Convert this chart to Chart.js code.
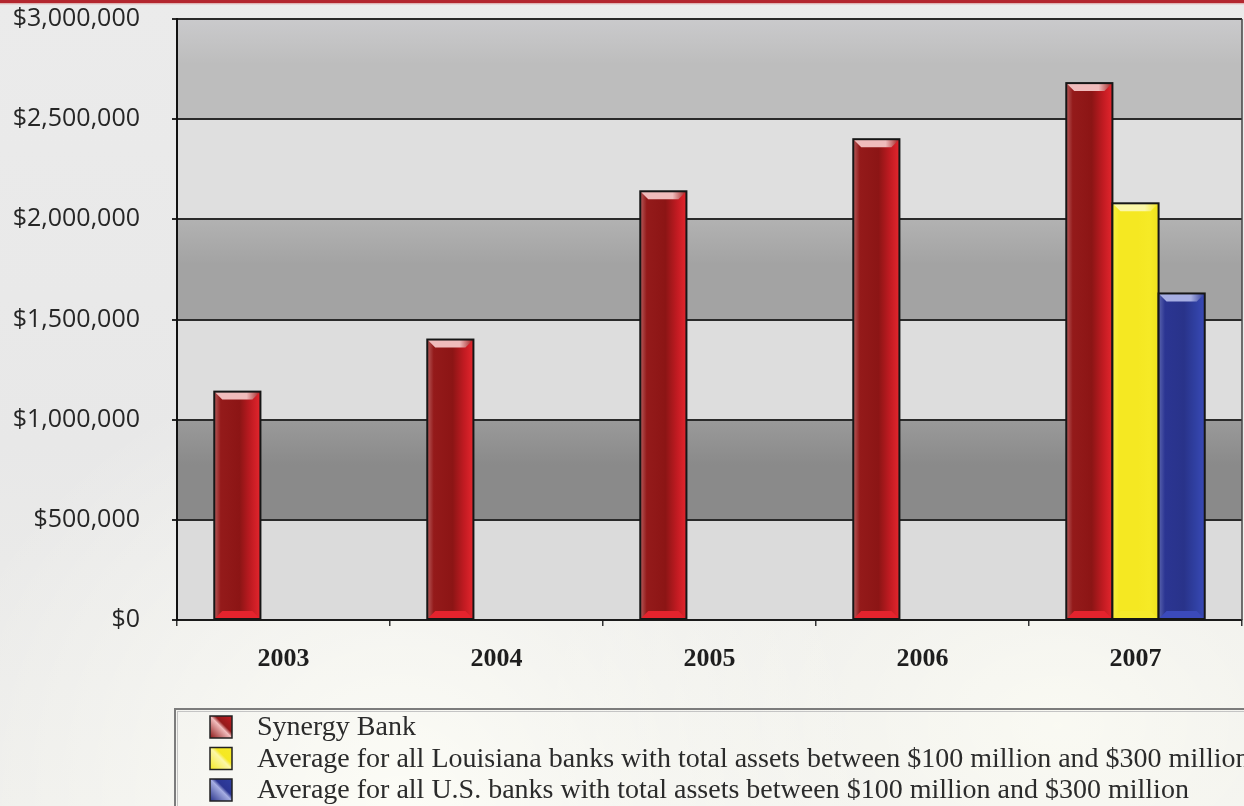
<!DOCTYPE html>
<html lang="en">
<head>
  <meta charset="UTF-8">
  <title>Synergy Bank – Total Assets</title>
  <script src="https://cdn.jsdelivr.net/npm/chart.js"></script>
  <style>
    html, body { margin: 0; padding: 0; }
    body {
      width: 1244px;
      height: 806px;
      overflow: hidden;
      background:
        linear-gradient(#b3262e 0, #b3262e 3px, #d9a0a0 3px, transparent 5px),
        radial-gradient(ellipse at 32% 100%, rgba(255,255,248,.85), rgba(255,255,248,0) 40%),
        radial-gradient(ellipse at 85% 90%, rgba(255,255,246,.7), rgba(255,255,246,0) 35%),
        linear-gradient(180deg, #ebebeb 0%, #e8e8e8 55%, #eeeeeb 100%);
    }
    .chart-box { position: absolute; left: 0; top: 0; width: 1244px; height: 806px; }
  </style>
</head>
<body>

<div class="chart-box">
  <canvas id="assets" aria-label="Bar chart: Synergy Bank total assets 2003-2007"></canvas>
</div>

<script>
  // ---- data ----
  const years = ["2003", "2004", "2005", "2006", "2007"];
  const synergy = [1140000, 1400000, 2140000, 2400000, 2680000];
  const louisianaAvg = [null, null, null, null, 2080000];
  const usAvg = [null, null, null, null, 1630000];
  const seriesNames = [
    "Synergy Bank",
    "Average for all Louisiana banks with total assets between $100 million and $300 million",
    "Average for all U.S. banks with total assets between $100 million and $300 million"
  ];
  const yTicks = [0, 500000, 1000000, 1500000, 2000000, 2500000, 3000000];

  // ---- look ----
  const barShades = [
    { side: ["#b65a5a", "#941a1a", "#8c1515", "#c21b22", "#e3262d"], top: "#f0bcbc", bottom: "#e4232d", flat: "#a01c1c" },
    { side: ["#f8ee48", "#f5e822", "#f5e822", "#f6ea26", "#efe11e"], top: "#fbf7a8", bottom: "#f6ea2a", flat: "#f5e822" },
    { side: ["#5a64ae", "#2b3592", "#29338a", "#3040a2", "#3949b6"], top: "#a6aee2", bottom: "#3b4abb", flat: "#2e3a98" }
  ];
  const darkBands = [["#9a9a9a", "#8a8a8a"], ["#b2b2b2", "#a3a3a3"], ["#cacacc", "#bdbdbd"]];
  const lightBands = ["#dbdbdb", "#dddddd", "#dfdfdf"];

  const money = v => "$" + v.toLocaleString("en-US");

  // alternating grey bands behind the bars
  const bands = {
    id: "bands",
    beforeDraw(chart) {
      const { ctx, chartArea: a, scales: { y } } = chart;
      ctx.save();
      for (let i = 0; i < yTicks.length - 1; i++) {
        const top = y.getPixelForValue(yTicks[i + 1]);
        const bot = y.getPixelForValue(yTicks[i]);
        const k = Math.floor(i / 2);
        if (i % 2) {
          const g = ctx.createLinearGradient(0, top, 0, bot);
          g.addColorStop(0, darkBands[k][0]);
          g.addColorStop(0.45, darkBands[k][1]);
          g.addColorStop(1, darkBands[k][1]);
          ctx.fillStyle = g;
        } else {
          ctx.fillStyle = lightBands[k];
        }
        ctx.fillRect(a.left, top, a.right - a.left, bot - top);
      }
      ctx.restore();
    }
  };

  // glassy shading over each bar, using the bar elements' own geometry
  function paintBar(ctx, l, t, w, h, s) {
    const r = l + w, b = t + h, bv = Math.min(8, h / 2);
    const g = ctx.createLinearGradient(l, 0, r, 0);
    [0, 0.14, 0.55, 0.8, 1].forEach((p, i) => g.addColorStop(p, s.side[i]));
    ctx.fillStyle = g;
    ctx.fillRect(l, t, w, h);

    const tg = ctx.createLinearGradient(l, 0, r, 0);
    tg.addColorStop(0, s.top);
    tg.addColorStop(0.7, s.top);
    tg.addColorStop(1, s.flat);
    ctx.fillStyle = tg;
    ctx.beginPath();
    ctx.moveTo(l, t); ctx.lineTo(r, t); ctx.lineTo(r - bv, t + bv); ctx.lineTo(l + bv, t + bv);
    ctx.closePath(); ctx.fill();

    ctx.fillStyle = s.bottom;
    ctx.beginPath();
    ctx.moveTo(l, b); ctx.lineTo(r, b); ctx.lineTo(r - bv, b - bv); ctx.lineTo(l + bv, b - bv);
    ctx.closePath(); ctx.fill();

    ctx.strokeStyle = "#161616";
    ctx.lineWidth = 2;
    ctx.strokeRect(l, t, w, h);
  }

  const glassBars = {
    id: "glassBars",
    afterDatasetsDraw(chart) {
      const { ctx } = chart;
      ctx.save();
      chart.data.datasets.forEach((ds, di) => {
        chart.getDatasetMeta(di).data.forEach((bar, j) => {
          if (ds.data[j] == null) return;
          const { x, y, base, width } = bar.getProps(["x", "y", "base", "width"], true);
          paintBar(ctx, x - width / 2, Math.min(y, base), width, Math.abs(base - y), barShades[di]);
        });
      });
      ctx.restore();
    }
  };

  // boxed legend under the axis, plus the right frame edge
  const boxLegend = {
    id: "boxLegend",
    afterDraw(chart) {
      const { ctx, chartArea: a } = chart;
      ctx.save();
      ctx.strokeStyle = "#444";
      ctx.lineWidth = 1.5;
      ctx.beginPath();
      ctx.moveTo(a.right, a.top); ctx.lineTo(a.right, a.bottom);
      ctx.stroke();

      const bx = a.left - 2, by = 709;
      ctx.strokeStyle = "#7c7c7c";
      ctx.lineWidth = 2;
      ctx.strokeRect(bx, by, 1200, 200);
      ctx.strokeStyle = "#c4c4c4";
      ctx.lineWidth = 1;
      ctx.strokeRect(bx + 2.5, by + 2.5, 1200, 200);

      ctx.font = '28px "Liberation Serif", serif';
      ctx.textBaseline = "middle";
      seriesNames.forEach((name, i) => {
        const cy = 727 + i * 31.5;
        const s = barShades[i];
        const sx = 210, sy = cy - 11, sz = 22;
        const g = ctx.createLinearGradient(sx, sy + sz, sx + sz, sy);
        g.addColorStop(0, s.side[2]);
        g.addColorStop(0.5, s.top);
        g.addColorStop(0.62, s.side[1]);
        g.addColorStop(1, s.side[3]);
        ctx.fillStyle = g;
        ctx.fillRect(sx, sy, sz, sz);
        ctx.strokeStyle = "#222";
        ctx.lineWidth = 1.5;
        ctx.strokeRect(sx, sy, sz, sz);
        ctx.fillStyle = "#2b2b2b";
        ctx.fillText(name, 257, cy + 1);
      });
      ctx.restore();
    }
  };

  new Chart("assets", {
    type: "bar",
    data: {
      labels: years,
      datasets: [
        { label: seriesNames[0], data: synergy, backgroundColor: barShades[0].flat },
        { label: seriesNames[1], data: louisianaAvg, backgroundColor: barShades[1].flat },
        { label: seriesNames[2], data: usAvg, backgroundColor: barShades[2].flat }
      ]
    },
    options: {
      responsive: true,
      maintainAspectRatio: false,
      animation: false,
      events: [],
      layout: { padding: { top: 19, right: 2, left: 0, bottom: 0 } },
      datasets: { bar: { categoryPercentage: 0.65, barPercentage: 1 } },
      plugins: { legend: { display: false }, tooltip: { enabled: false } },
      scales: {
        x: {
          afterFit: s => { s.height = 186; },
          grid: { offset: true, drawOnChartArea: false, tickLength: 6, color: "#333", lineWidth: 1.5 },
          border: { color: "#1a1a1a", width: 2 },
          ticks: {
            padding: 18,
            color: "#1e1e1e",
            font: { family: '"Liberation Serif", serif', weight: "bold", size: 26 }
          }
        },
        y: {
          min: 0,
          max: 3000000,
          afterFit: s => { s.width = 177; s.paddingTop = 0; s.paddingBottom = 0; },
          afterBuildTicks: s => { s.ticks = yTicks.map(v => ({ value: v })); },
          grid: { color: "#2a2a2a", lineWidth: 2, tickLength: 5 },
          border: { color: "#111", width: 2 },
          ticks: {
            padding: 32,
            color: "#262626",
            font: { family: '"Open Sans", sans-serif', size: 25 },
            callback: v => money(v)
          }
        }
      }
    },
    plugins: [bands, glassBars, boxLegend]
  });
</script>
</body>
</html>
